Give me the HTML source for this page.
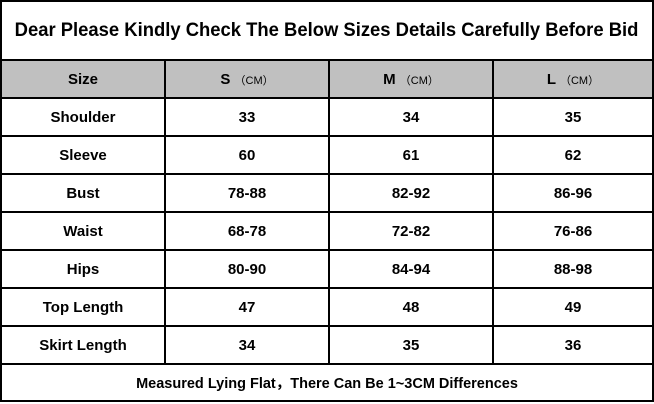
<!DOCTYPE html>
<html><head><meta charset="utf-8"><style>
html,body{margin:0;padding:0;background:#fff;width:654px;height:404px;overflow:hidden}
table{position:absolute;left:0;top:0;border-collapse:collapse;table-layout:fixed;font-family:"Liberation Sans","Noto Sans CJK SC",sans-serif;font-weight:bold;color:#000}
td{border:2px solid #000;text-align:center;padding:0;font-size:15px;white-space:nowrap;overflow:hidden}
.hd td{background:#c0c0c0}
.cm{font-size:11px;font-weight:normal}
.title{font-size:19px}
.sx{display:inline-block;transform:scaleX(0.97);transform-origin:center}
.ft{font-size:14.5px}
</style></head><body>
<table>
<colgroup><col style="width:164px"><col style="width:164px"><col style="width:164px"><col style="width:160px"></colgroup>
<tr style="height:59px"><td colspan="4" class="title"><span class="sx">Dear Please Kindly Check The Below Sizes Details Carefully Before Bid</span></td></tr>
<tr class="hd" style="height:38px"><td>Size</td><td>S <span class="cm">（CM）</span></td><td>M <span class="cm">（CM）</span></td><td>L <span class="cm">（CM）</span></td></tr>
<tr style="height:38px"><td>Shoulder</td><td>33</td><td>34</td><td>35</td></tr>
<tr style="height:38px"><td>Sleeve</td><td>60</td><td>61</td><td>62</td></tr>
<tr style="height:38px"><td>Bust</td><td>78-88</td><td>82-92</td><td>86-96</td></tr>
<tr style="height:38px"><td>Waist</td><td>68-78</td><td>72-82</td><td>76-86</td></tr>
<tr style="height:38px"><td>Hips</td><td>80-90</td><td>84-94</td><td>88-98</td></tr>
<tr style="height:38px"><td>Top Length</td><td>47</td><td>48</td><td>49</td></tr>
<tr style="height:38px"><td>Skirt Length</td><td>34</td><td>35</td><td>36</td></tr>
<tr style="height:37px"><td colspan="4" class="ft"><span class="sx" style="transform:scaleX(1.0)">Measured Lying Flat，There Can Be 1~3CM Differences</span></td></tr>
</table>
</body></html>
